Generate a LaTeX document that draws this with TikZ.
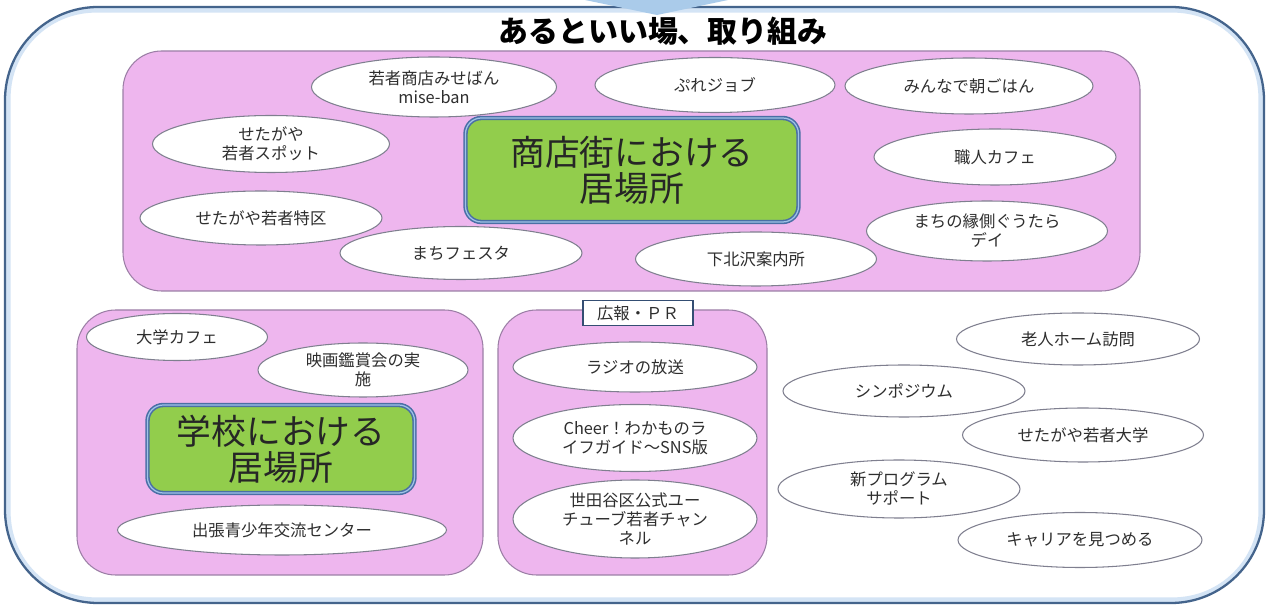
\documentclass[tikz,border=0pt]{standalone}
\usepackage{fontspec}
\setmainfont{Noto Sans CJK JP}
\usetikzlibrary{shapes.geometric}
\definecolor{pinkc}{HTML}{EEB6EE}
\definecolor{pinkline}{HTML}{9C7FA6}
\definecolor{greenc}{HTML}{92CD4C}
\definecolor{blueline}{HTML}{4A6FA5}
\definecolor{bluelight}{HTML}{9FC3E8}
\definecolor{framec}{HTML}{44648C}
\definecolor{arrowc}{HTML}{AACBEA}
\definecolor{ellline}{HTML}{7F7F8F}
\definecolor{txt}{HTML}{2E2E2E}
\begin{document}
\begin{tikzpicture}[x=0.02cm,y=-0.02cm,
  ell/.style 2 args={ellipse, draw=ellline, line width=0.6pt, fill=white, inner sep=0pt,
    minimum width=#1*0.02cm, minimum height=#2*0.02cm, align=center, text=txt,
    font=\fontsize{9.3}{10.8}\selectfont},
  pinkbox/.style={fill=pinkc, draw=pinkline, line width=0.6pt, rounded corners=22pt},
  greenbox/.style 2 args={rectangle, fill=greenc, draw=blueline, line width=0.9pt,
    double=bluelight, double distance=0.7pt, rounded corners=9pt, align=center,
    minimum width=#1*0.02cm, minimum height=#2*0.02cm, inner sep=0pt,
    font=\fontsize{19.8}{20.5}\selectfont, text=black!85},
  prlabel/.style={rectangle, draw=blueline!70!black, fill=white, line width=0.8pt,
    minimum width=110*0.02cm, minimum height=25*0.02cm, inner sep=0pt,
    font=\fontsize{9.3}{10}\selectfont, text=txt}
]
\useasboundingbox (0,0) rectangle (1268,607);
\fill[white] (0,0) rectangle (1268,607);
% outer frame
\draw[bluelight!45, line width=3pt, rounded corners=50pt] (8,10) rectangle (1261,600);
\draw[framec, line width=1.3pt, rounded corners=53pt] (5,7) rectangle (1264,603);
\fill[arrowc] (585,0) -- (728,0) -- (657,15) -- cycle;
\node[font=\fontsize{17}{20}\selectfont\bfseries] (title) at (663,31) {あるといい場、取り組み};

% top pink box
\draw[pinkbox] (123,51) rectangle (1140,291);
\node[greenbox={333}{104}] (shoten) at (632,170) {商店街における\\居場所};
\node[ell={245}{60}] (miseban) at (434,87) {若者商店みせばん\\mise-ban};
\node[ell={240}{55}] (pure) at (715,85) {ぷれジョブ};
\node[ell={248}{56}] (asa) at (969,86) {みんなで朝ごはん};
\node[ell={237}{57}] (spot) at (271,144) {せたがや\\若者スポット};
\node[ell={242}{56}] (shokunin) at (995,157) {職人カフェ};
\node[ell={242}{54}] (tokku) at (261,218) {せたがや若者特区};
\node[ell={241}{60}] (engawa) at (987,231) {まちの縁側ぐうたら\\デイ};
\node[ell={242}{53}] (festa) at (461,253) {まちフェスタ};
\node[ell={241}{54}] (shimo) at (756,259) {下北沢案内所};

% bottom-left pink box
\draw[pinkbox] (77,310) rectangle (483,575);
\node[ell={181}{47}] (daigaku) at (177,337) {大学カフェ};
\node[ell={210}{54}] (eiga) at (363,370) {映画鑑賞会の実\\施};
\node[greenbox={267}{88}] (gakko) at (281,449) {学校における\\居場所};
\node[ell={329}{50}] (shutcho) at (282,530) {出張青少年交流センター};

% middle pink box
\draw[pinkbox] (498,310) rectangle (767,575);
\node[prlabel] (pr) at (638,313) {広報・ＰＲ};
\node[ell={244}{50}] (radio) at (635,367) {ラジオの放送};
\node[ell={244}{67}] (cheer) at (635,438) {Cheer！わかものラ\\イフガイド～SNS版};
\node[ell={244}{78}] (youtube) at (635,519) {世田谷区公式ユー\\チューブ若者チャン\\ネル};

% right ellipses
\node[ell={243}{52}] (rojin) at (1078,339) {老人ホーム訪問};
\node[ell={242}{52}] (sympo) at (904,391) {シンポジウム};
\node[ell={241}{54}] (daigaku2) at (1083,435) {せたがや若者大学};
\node[ell={242}{58}] (newprog) at (899,489) {新プログラム\\サポート};
\node[ell={244}{55}] (career) at (1080,540) {キャリアを見つめる};
\end{tikzpicture}
\end{document}
